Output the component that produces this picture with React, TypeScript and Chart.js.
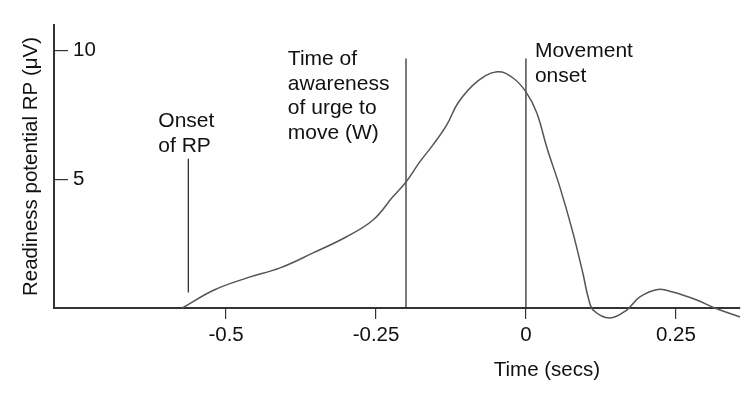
import React, { useEffect, useRef } from "react";
import { Chart, registerables } from "chart.js";

Chart.register(...registerables);

// Readiness potential curve (time in seconds, amplitude in µV)
const timeSecs = [
  -0.573, -0.52, -0.465, -0.41, -0.355, -0.3, -0.255, -0.222, -0.2, -0.177,
  -0.155, -0.132, -0.113, -0.082, -0.048, -0.022, 0, 0.018, 0.035, 0.057,
  0.078, 0.095, 0.104, 0.113, 0.14, 0.168, 0.19, 0.22, 0.245, 0.285, 0.315, 0.357,
];
const rpMicrovolts = [
  0, 0.7, 1.17, 1.56, 2.14, 2.76, 3.42, 4.32, 4.9, 5.68,
  6.34, 7.12, 7.98, 8.79, 9.18, 8.95, 8.4, 7.59, 6.23, 4.67,
  2.96, 1.35, 0.4, -0.1, -0.39, -0.08, 0.43, 0.72, 0.62, 0.31, 0, -0.35,
];

const xTickValues = [-0.5, -0.25, 0, 0.25];
const yTickValues = [5, 10];
const xRange = [-0.787, 0.357];
const yRange = [0, 11];

// Event markers (vertical lines)
const markerTimes = [-0.563, -0.2, 0];
const markerTops = [5.8, 9.7, 9.7];
const markerBottoms = [0.6, 0, 0];
const markerLabels = [
  ["Onset", "of RP"],
  ["Time of", "awareness", "of urge to", "move (W)"],
  ["Movement", "onset"],
];
const labelAnchorX = [-0.613, -0.397, 0.015];
const labelAnchorY = [7.03, 9.44, 9.75];

const xTitle = "Time (secs)";
const xTitleAt = 0.035;
const yTitle = "Readiness potential RP (\u03bcV)";

const FONT_FAMILY = '"Liberation Sans", Arial, Helvetica, sans-serif';
const TEXT = "#111111";
const AXIS = "#333333";

const annotationPlugin = {
  id: "rpAnnotations",
  afterDraw(chart: any) {
    const { ctx, chartArea } = chart;
    const x = chart.scales.x;
    const y = chart.scales.y;
    ctx.save();
    ctx.fillStyle = TEXT;
    ctx.font = `21px ${FONT_FAMILY}`;
    ctx.textAlign = "left";
    ctx.textBaseline = "alphabetic";
    markerLabels.forEach((lines, i) => {
      const px = x.getPixelForValue(labelAnchorX[i]);
      const py = y.getPixelForValue(labelAnchorY[i]);
      lines.forEach((t, j) => ctx.fillText(t, px, py + j * 24.5));
    });
    ctx.font = `20.5px ${FONT_FAMILY}`;
    ctx.textAlign = "center";
    ctx.textBaseline = "middle";
    ctx.fillText(xTitle, x.getPixelForValue(xTitleAt), chartArea.bottom + 62);
    ctx.restore();
  },
};

export default function App() {
  const canvasRef = useRef<HTMLCanvasElement | null>(null);

  useEffect(() => {
    if (!canvasRef.current) return;

    const curve = timeSecs.map((t, i) => ({ x: t, y: rpMicrovolts[i] }));
    const markerSets = markerTimes.map((t, i) => ({
      label: `marker${i}`,
      data: [
        { x: t, y: markerBottoms[i] },
        { x: t, y: markerTops[i] },
      ],
      borderColor: "#222222",
      borderWidth: 1.2,
      pointRadius: 0,
      tension: 0,
    }));

    const chart = new Chart(canvasRef.current, {
      type: "line",
      data: {
        datasets: [
          {
            label: "RP",
            data: curve,
            borderColor: "#555555",
            borderWidth: 1.5,
            pointRadius: 0,
            tension: 0.4,
            clip: false as any,
          },
          ...markerSets,
        ],
      },
      options: {
        animation: false,
        responsive: true,
        maintainAspectRatio: false,
        layout: { padding: { top: 25, right: 14, left: 0, bottom: 0 } },
        plugins: {
          legend: { display: false },
          tooltip: { enabled: false },
        },
        scales: {
          x: {
            type: "linear",
            position: "bottom",
            min: xRange[0],
            max: xRange[1],
            afterBuildTicks: (s: any) => {
              s.ticks = xTickValues.map((v) => ({ value: v }));
            },
            afterFit: (s: any) => {
              s.height = 92;
              s.paddingLeft = 0;
              s.paddingRight = 0;
            },
            grid: {
              drawOnChartArea: false,
              drawTicks: true,
              tickLength: 11,
              color: AXIS,
              lineWidth: 1.2,
            },
            border: { display: true, color: AXIS, width: 2 },
            ticks: {
              padding: 4,
              color: TEXT,
              font: { family: FONT_FAMILY, size: 20.5 },
              maxRotation: 0,
              autoSkip: false,
              callback: (v: any) => String(v),
            },
          },
          y: {
            type: "linear",
            position: "left",
            min: yRange[0],
            max: yRange[1],
            afterBuildTicks: (s: any) => {
              s.ticks = yTickValues.map((v) => ({ value: v }));
            },
            afterFit: (s: any) => {
              s.width = 54;
              s.paddingTop = 0;
              s.paddingBottom = 0;
            },
            grid: {
              drawOnChartArea: false,
              drawTicks: true,
              tickLength: -14,
              color: AXIS,
              lineWidth: 1.2,
            },
            border: { display: true, color: AXIS, width: 2 },
            ticks: {
              mirror: true,
              padding: 19,
              color: TEXT,
              font: { family: FONT_FAMILY, size: 20.5 },
              callback: (v: any) => String(v),
            },
            title: {
              display: true,
              text: yTitle,
              color: TEXT,
              font: { family: FONT_FAMILY, size: 20.5 },
              padding: { top: 19, bottom: 0 },
            },
          },
        },
      },
      plugins: [annotationPlugin],
    });

    return () => chart.destroy();
  }, []);

  return (
    <div
      style={{
        position: "absolute",
        left: 0,
        top: 0,
        width: 754,
        height: 400,
        background: "#ffffff",
      }}
    >
      <canvas ref={canvasRef} />
    </div>
  );
}
